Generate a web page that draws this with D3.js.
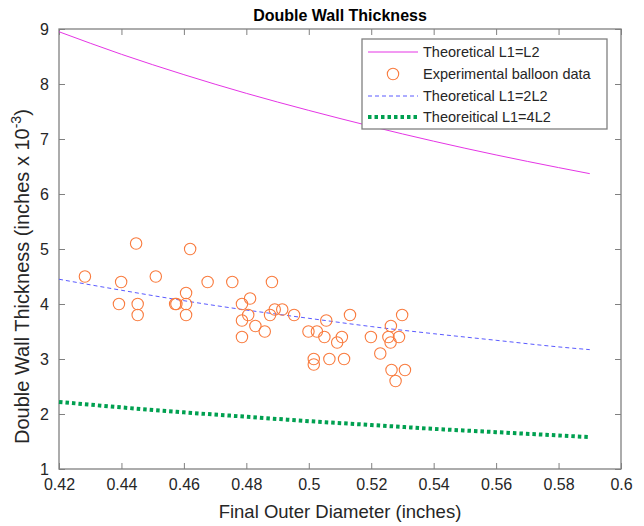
<!DOCTYPE html>
<html>
<head>
<meta charset="utf-8">
<script src="https://cdn.jsdelivr.net/npm/d3@7"></script>
<style>
  body { margin: 0; background: #fff; }
  svg { font-family: "Liberation Sans", Arial, sans-serif; }
</style>
</head>
<body>
<script>
// experimental balloon data (diameter in inches, thickness in inches x 1e-3)
const expDiameter = [0.4283, 0.4399, 0.4392, 0.4447, 0.4452, 0.4452, 0.4510, 0.4572, 0.4576, 0.4607,
    0.4607, 0.4607, 0.4620, 0.4676, 0.4755, 0.4786, 0.4786, 0.4786, 0.4806, 0.4812,
    0.4829, 0.4859, 0.4876, 0.4882, 0.4891, 0.4915, 0.4953, 0.4999, 0.5016, 0.5016,
    0.5026, 0.5050, 0.5056, 0.5066, 0.5091, 0.5106, 0.5113, 0.5132, 0.5199, 0.5229,
    0.5255, 0.5262, 0.5263, 0.5265, 0.5278, 0.5289, 0.5299, 0.5308];
const expThickness = [4.5, 4.4, 4.0, 5.1, 4.0, 3.8, 4.5, 4.0, 4.0, 4.2,
    4.0, 3.8, 5.0, 4.4, 4.4, 4.0, 3.7, 3.4, 3.8, 4.1,
    3.6, 3.5, 3.8, 4.4, 3.9, 3.9, 3.8, 3.5, 3.0, 2.9,
    3.5, 3.4, 3.7, 3.0, 3.3, 3.4, 3.0, 3.8, 3.4, 3.1,
    3.4, 3.3, 3.6, 2.8, 2.6, 3.4, 3.8, 2.8];

// theoretical curves, read at these diameters
const theoryDiameter = [0.42, 0.44, 0.46, 0.48, 0.50, 0.52, 0.54, 0.56, 0.58, 0.59];
const theoryL1eqL2 = [8.95, 8.54, 8.17, 7.83, 7.52, 7.23, 6.96, 6.71, 6.48, 6.37];
const theoryL1eq2L2 = [4.45, 4.25, 4.06, 3.89, 3.74, 3.59, 3.46, 3.34, 3.22, 3.17];
const theoryL1eq4L2 = [2.22, 2.12, 2.03, 1.95, 1.87, 1.80, 1.73, 1.67, 1.61, 1.58];

const xTicks = [0.42, 0.44, 0.46, 0.48, 0.5, 0.52, 0.54, 0.56, 0.58, 0.6];
const yTicks = [1, 2, 3, 4, 5, 6, 7, 8, 9];

const width = 644, height = 526;
const margin = { top: 29, right: 23, bottom: 57, left: 59 };

const svg = d3.select("body").append("svg")
    .attr("width", width)
    .attr("height", height);

const x = d3.scaleLinear().domain([0.42, 0.6]).range([margin.left, width - margin.right]);
const y = d3.scaleLinear().domain([1, 9]).range([height - margin.bottom, margin.top]);

const axisColor = "#808080";
const textColor = "#262626";
const tickLen = 6;

// axes with inward ticks on all four sides
svg.append("g")
    .attr("transform", `translate(0,${y(1)})`)
    .call(d3.axisBottom(x).tickValues(xTicks).tickSizeInner(-tickLen).tickSizeOuter(0).tickPadding(10).tickFormat(d3.format("")))
    .call(g => g.select(".domain").remove());
svg.append("g")
    .attr("transform", `translate(0,${y(9)})`)
    .call(d3.axisTop(x).tickValues(xTicks).tickSizeInner(-tickLen).tickSizeOuter(0).tickFormat(""))
    .call(g => g.select(".domain").remove());
svg.append("g")
    .attr("transform", `translate(${x(0.42)},0)`)
    .call(d3.axisLeft(y).tickValues(yTicks).tickSizeInner(-tickLen).tickSizeOuter(0).tickPadding(10))
    .call(g => g.select(".domain").remove());
svg.append("g")
    .attr("transform", `translate(${x(0.6)},0)`)
    .call(d3.axisRight(y).tickValues(yTicks).tickSizeInner(-tickLen).tickSizeOuter(0).tickFormat(""))
    .call(g => g.select(".domain").remove());

svg.selectAll(".tick line").attr("stroke", axisColor);
svg.selectAll(".tick text")
    .attr("fill", textColor)
    .style("font-size", "16px");

svg.append("rect")
    .attr("x", x(0.42))
    .attr("y", y(9))
    .attr("width", x(0.6) - x(0.42))
    .attr("height", y(1) - y(9))
    .attr("fill", "none")
    .attr("stroke", axisColor)
    .attr("stroke-width", 1.3);

const plot = svg.append("g");

const line = d3.line()
    .x(d => x(d[0]))
    .y(d => y(d[1]))
    .curve(d3.curveMonotoneX);

const series = [
    { name: "Theoretical L1=L2", values: theoryL1eqL2, color: "#e535e5", width: 1, dash: null },
    { name: "Theoretical L1=2L2", values: theoryL1eq2L2, color: "#5a5aff", width: 1, dash: "4,3" },
    { name: "Theoreitical L1=4L2", values: theoryL1eq4L2, color: "#00a050", width: 4, dash: "3.5,3" }
];

series.forEach(s => {
    plot.append("path")
        .datum(theoryDiameter.map((d, i) => [d, s.values[i]]))
        .attr("fill", "none")
        .attr("stroke", s.color)
        .attr("stroke-width", s.width)
        .attr("stroke-dasharray", s.dash)
        .attr("d", line);
});

const circleColor = "#f97b3e";
plot.selectAll(".pt")
    .data(expDiameter.map((d, i) => [d, expThickness[i]]))
    .enter().append("circle")
    .attr("class", "pt")
    .attr("cx", d => x(d[0]))
    .attr("cy", d => y(d[1]))
    .attr("r", 5.7)
    .attr("fill", "none")
    .attr("stroke", circleColor)
    .attr("stroke-width", 1.1);

// title and axis labels
svg.append("text")
    .attr("x", (x(0.42) + x(0.6)) / 2)
    .attr("y", 21)
    .attr("text-anchor", "middle")
    .attr("font-weight", "bold")
    .attr("font-size", 16)
    .attr("fill", "#000")
    .text("Double Wall Thickness");

svg.append("text")
    .attr("x", (x(0.42) + x(0.6)) / 2)
    .attr("y", 518)
    .attr("text-anchor", "middle")
    .attr("font-size", 18.5)
    .attr("fill", textColor)
    .text("Final Outer Diameter (inches)");

const yLabel = svg.append("text")
    .attr("transform", "translate(29,444) rotate(-90)")
    .attr("text-anchor", "start")
    .attr("font-size", 20)
    .attr("fill", textColor);
yLabel.append("tspan").text("Double Wall Thickness (inches x 10");
yLabel.append("tspan").attr("dy", -8).attr("font-size", 14).text("-3");
yLabel.append("tspan").attr("dy", 8).text(")");

// legend
const legend = svg.append("g").attr("transform", "translate(362,39)");
legend.append("rect")
    .attr("width", 245)
    .attr("height", 90)
    .attr("fill", "#fff")
    .attr("stroke", axisColor)
    .attr("stroke-width", 1.3);

const legendRows = [
    { label: series[0].name, kind: "line", s: series[0] },
    { label: "Experimental balloon data", kind: "circle" },
    { label: series[1].name, kind: "line", s: series[1] },
    { label: series[2].name, kind: "line", s: series[2] }
];
const rowY = [13, 35, 57, 78];

legendRows.forEach((r, i) => {
    const g = legend.append("g").attr("transform", `translate(0,${rowY[i]})`);
    if (r.kind === "line") {
        g.append("line")
            .attr("x1", 6).attr("x2", 56)
            .attr("stroke", r.s.color)
            .attr("stroke-width", r.s.width)
            .attr("stroke-dasharray", r.s.dash);
    } else {
        g.append("circle")
            .attr("cx", 31).attr("r", 5.7)
            .attr("fill", "none")
            .attr("stroke", circleColor)
            .attr("stroke-width", 1.1);
    }
    g.append("text")
        .attr("x", 61)
        .attr("dy", "0.35em")
        .attr("font-size", 14.5)
        .attr("fill", textColor)
        .text(r.label);
});
</script>
</body>
</html>
